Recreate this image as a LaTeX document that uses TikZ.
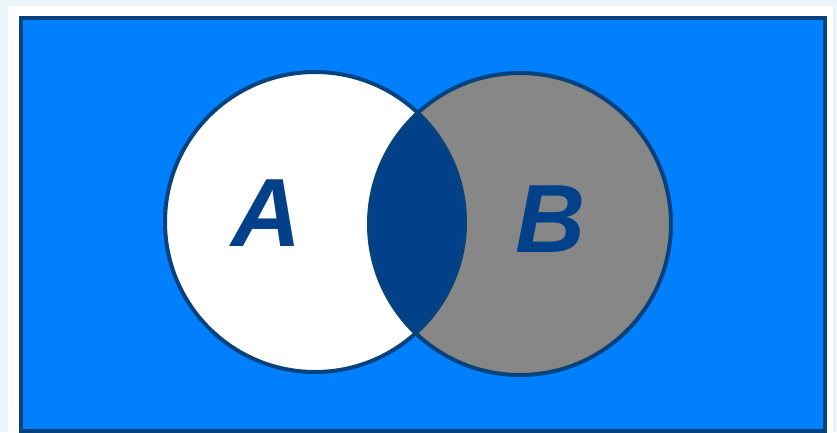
\documentclass[tikz,border=0pt]{standalone}
\usepackage{fontspec}
\setsansfont{Liberation Sans}
\usetikzlibrary{positioning}
\definecolor{skyfill}{HTML}{0080FF}
\definecolor{navyline}{HTML}{06427E}
\definecolor{lensfill}{HTML}{02418A}
\definecolor{setgray}{HTML}{878787}
\definecolor{pagetint}{HTML}{EAF5FA}

\begin{document}
\begin{tikzpicture}[x=1pt,y=-1pt,
  setline/.style={draw=navyline, line width=4pt},
  setlabel/.style={font=\sffamily\bfseries\itshape\fontsize{97}{97}\selectfont,
                   text=lensfill, inner sep=0pt},
]
\useasboundingbox (0,0) rectangle (837,432);
\fill[pagetint] (0,0) rectangle (837,432);
\fill[white] (8,6) rectangle (833,432);
% universe
\draw[fill=skyfill, draw=navyline, line width=4pt] (21,18) rectangle (825,431);
\coordinate (cA) at (315,222);
\coordinate (cB) at (520,224);
% the two sets and their overlap
\fill[white] (cA) circle[radius=150pt];
\fill[setgray] (cB) circle[radius=151pt];
\begin{scope}
  \clip (cA) circle[radius=150pt];
  \fill[lensfill] (cB) circle[radius=151pt];
\end{scope}
\draw[setline] (cA) circle[radius=150pt];
\draw[setline] (cB) circle[radius=151pt];
\node[setlabel] (labA) at (267,213) {A};
\node[setlabel] (labB) at (551,219) {B};
\end{tikzpicture}
\end{document}
